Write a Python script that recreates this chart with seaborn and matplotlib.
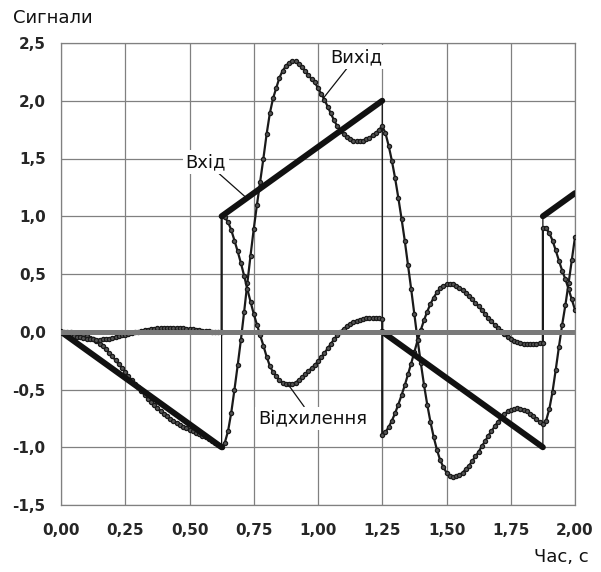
import numpy as np
import pandas as pd
import matplotlib
matplotlib.use("Agg")
import matplotlib.pyplot as plt
import seaborn as sns

# ---------------- data ----------------
x_ticks = [0.0, 0.25, 0.5, 0.75, 1.0, 1.25, 1.5, 1.75, 2.0]
x_tick_labels = ["0,00", "0,25", "0,50", "0,75", "1,00", "1,25", "1,50", "1,75", "2,00"]
y_ticks = [-1.5, -1.0, -0.5, 0.0, 0.5, 1.0, 1.5, 2.0, 2.5]
y_tick_labels = ["-1,5", "-1,0", "-0,5", "0,0", "0,5", "1,0", "1,5", "2,0", "2,5"]

# input signal (Вхід): breakpoints of the ramps
input_t = [0.0, 0.625, 0.625, 1.25, 1.25, 1.875, 1.875, 2.0]
input_v = [0.0, -1.0, 1.0, 2.0, 0.0, -1.0, 1.0, 1.2]
input_seg = [0, 0, 1, 1, 2, 2, 3, 3]

# output signal (Вихід), sampled every 0.0125 s from 0 to 2
output_v = [
    0, 0.000, -0.002, -0.004, -0.008, -0.014, -0.022, -0.030, -0.040, -0.052,
    -0.066, -0.082, -0.102, -0.126, -0.152, -0.182, -0.214, -0.248, -0.282, -0.316,
    -0.350, -0.384, -0.418, -0.450, -0.480, -0.514, -0.548, -0.578, -0.608, -0.634,
    -0.660, -0.684, -0.708, -0.730, -0.752, -0.772, -0.790, -0.806, -0.822, -0.836,
    -0.848, -0.860, -0.874, -0.886, -0.900, -0.914, -0.928, -0.944, -0.960, -0.978,
    -0.996,
    -0.96, -0.86, -0.70, -0.50, -0.29, -0.07, 0.17, 0.42, 0.66, 0.89,
    1.10, 1.30, 1.50, 1.71, 1.89, 2.02, 2.11, 2.20, 2.26, 2.30,
    2.33, 2.34, 2.34, 2.32, 2.29, 2.26, 2.22, 2.19, 2.16, 2.11,
    2.06, 2.01, 1.95, 1.89, 1.83, 1.78, 1.74, 1.71, 1.685, 1.67,
    1.655, 1.65, 1.65, 1.655, 1.665, 1.68, 1.70, 1.72, 1.75, 1.78,
    1.72, 1.61, 1.48, 1.33, 1.16, 0.98, 0.79, 0.58, 0.37, 0.15,
    -0.07, -0.27, -0.46, -0.63, -0.78, -0.91, -1.02, -1.11, -1.17, -1.22,
    -1.25, -1.255, -1.25, -1.24, -1.22, -1.19, -1.16, -1.12, -1.08, -1.04,
    -0.99, -0.95, -0.90, -0.86, -0.82, -0.78, -0.745, -0.715, -0.69, -0.675,
    -0.665, -0.66, -0.665, -0.675, -0.69, -0.71, -0.73, -0.755, -0.78, -0.80,
    -0.77, -0.67, -0.52, -0.33, -0.13, 0.06, 0.23, 0.42, 0.62, 0.82,
]

# deviation (Відхилення), per segment between input jumps, 0.0125 s step
dev_1 = [
    0, -0.010, -0.019, -0.028, -0.036, -0.043, -0.049, -0.055, -0.060, -0.064,
    -0.067, -0.069, -0.069, -0.067, -0.064, -0.059, -0.053, -0.046, -0.039, -0.032,
    -0.025, -0.018, -0.011, -0.005, 0.000, 0.007, 0.014, 0.019, 0.024, 0.027,
    0.030, 0.032, 0.034, 0.035, 0.036, 0.036, 0.035, 0.033, 0.031, 0.028,
    0.024, 0.020, 0.017, 0.013, 0.010, 0.007, 0.004, 0.002, 0.000, -0.001,
    -0.002,
]
dev_2 = [
    1.00, 0.99, 0.95, 0.88, 0.79, 0.695, 0.595, 0.485, 0.37, 0.26,
    0.155, 0.06, -0.03, -0.12, -0.215, -0.295, -0.35, -0.385, -0.42, -0.44,
    -0.45, -0.455, -0.45, -0.44, -0.42, -0.395, -0.37, -0.34, -0.315, -0.29,
    -0.255, -0.22, -0.185, -0.145, -0.105, -0.065, -0.03, 0.0, 0.025, 0.0475,
    0.065, 0.0825, 0.095, 0.105, 0.1125, 0.1175, 0.12, 0.12, 0.12, 0.115,
    0.11,
]
dev_3 = [
    -0.89, -0.87, -0.825, -0.77, -0.705, -0.63, -0.55, -0.465, -0.37, -0.275,
    -0.175, -0.075, 0.015, 0.10, 0.175, 0.24, 0.295, 0.34, 0.375, 0.395,
    0.41, 0.415, 0.41, 0.395, 0.38, 0.36, 0.335, 0.31, 0.28, 0.25,
    0.22, 0.185, 0.155, 0.12, 0.09, 0.06, 0.03, 0.0025, -0.0225, -0.045,
    -0.0625, -0.0775, -0.09, -0.0975, -0.1025, -0.105, -0.105, -0.105, -0.1025, -0.10,
    -0.10,
]
dev_4 = [0.90, 0.895, 0.855, 0.79, 0.705, 0.615, 0.53, 0.455, 0.37, 0.28, 0.19]

zero_t = [0.0, 2.0]
zero_v = [0.0, 0.0]

# ---------------- frames ----------------
t_out = np.linspace(0.0, 2.0, len(output_v))
df_out = pd.DataFrame({"t": t_out, "v": output_v})

seg_edges = [0.0, 0.625, 1.25, 1.875, 2.0]
dev_parts = [dev_1, dev_2, dev_3, dev_4]
t_dev = np.concatenate([np.linspace(seg_edges[i], seg_edges[i + 1], len(p))
                        for i, p in enumerate(dev_parts)])
df_dev = pd.DataFrame({"t": t_dev, "v": np.concatenate(dev_parts)})
df_in = pd.DataFrame({"t": input_t, "v": input_v, "seg": input_seg})
df_zero = pd.DataFrame({"t": zero_t, "v": zero_v})

# ---------------- style ----------------
sns.set_style("white")
plt.rcParams["font.family"] = ["DejaVu Sans"]

W, H = 601, 572
fig = plt.figure(figsize=(W / 100, H / 100), dpi=100)
ax = fig.add_axes([61 / W, 67 / H, 514 / W, 462 / H])

grid_c = "#808080"
ax.set_xlim(0, 2)
ax.set_ylim(-1.5, 2.5)
ax.set_xticks(x_ticks)
ax.set_xticklabels(x_tick_labels, fontweight="bold", fontsize=11)
ax.set_yticks(y_ticks)
ax.set_yticklabels(y_tick_labels, fontweight="bold", fontsize=11)
ax.tick_params(length=0)
ax.tick_params(axis="y", pad=11)
ax.tick_params(axis="x", pad=13)
ax.grid(True, color=grid_c, lw=0.9)
ax.set_axisbelow(True)
for s in ax.spines.values():
    s.set_color(grid_c)
    s.set_linewidth(0.9)

mk = dict(marker="o", markersize=3.0, markerfacecolor="#555555",
          markeredgecolor="#1a1a1a", markeredgewidth=0.9)

# input: thin connecting line (jumps) + thick ramps
sns.lineplot(data=df_in, x="t", y="v", ax=ax, estimator=None, sort=False,
             color="#111111", lw=0.9, legend=False, zorder=3)
sns.lineplot(data=df_in, x="t", y="v", units="seg", ax=ax, estimator=None,
             sort=False, color="#111111", lw=4.3, legend=False,
             solid_capstyle="round", zorder=4)
# output and deviation
sns.lineplot(data=df_out, x="t", y="v", ax=ax, estimator=None, sort=False,
             color="#1a1a1a", lw=1.6, legend=False, zorder=3, **mk)
sns.lineplot(data=df_dev, x="t", y="v", ax=ax, estimator=None, sort=False,
             color="#1a1a1a", lw=1.6, legend=False, zorder=3, **mk)
# zero line
sns.lineplot(data=df_zero, x="t", y="v", ax=ax, estimator=None, sort=False,
             color="#7a7a7a", lw=3.6, legend=False, solid_capstyle="round",
             zorder=5)
ax.set_xlabel("")
ax.set_ylabel("")

# annotations
lab = dict(fontsize=13, color="#111111", ha="center", va="center",
           bbox=dict(boxstyle="square,pad=0.15", fc="white", ec="none"),
           arrowprops=dict(arrowstyle="-", color="#111111", lw=0.9,
                           shrinkA=0, shrinkB=0), zorder=6)
ax.annotate("Вхід", xy=(0.716, 1.17), xytext=(0.564, 1.47), **lab)
ax.annotate("Вихід", xy=(1.02, 2.02), xytext=(1.148, 2.38), **lab)
ax.annotate("Відхилення", xy=(0.885, -0.46), xytext=(0.979, -0.75), **lab)

fig.text(13 / W, 1 - 18 / H, "Сигнали", fontsize=13, ha="left", va="center",
         color="#111111")
fig.text(589 / W, 1 - 557 / H, "Час, с", fontsize=13, ha="right", va="center",
         color="#111111")

fig.savefig("out.png", dpi=100)
